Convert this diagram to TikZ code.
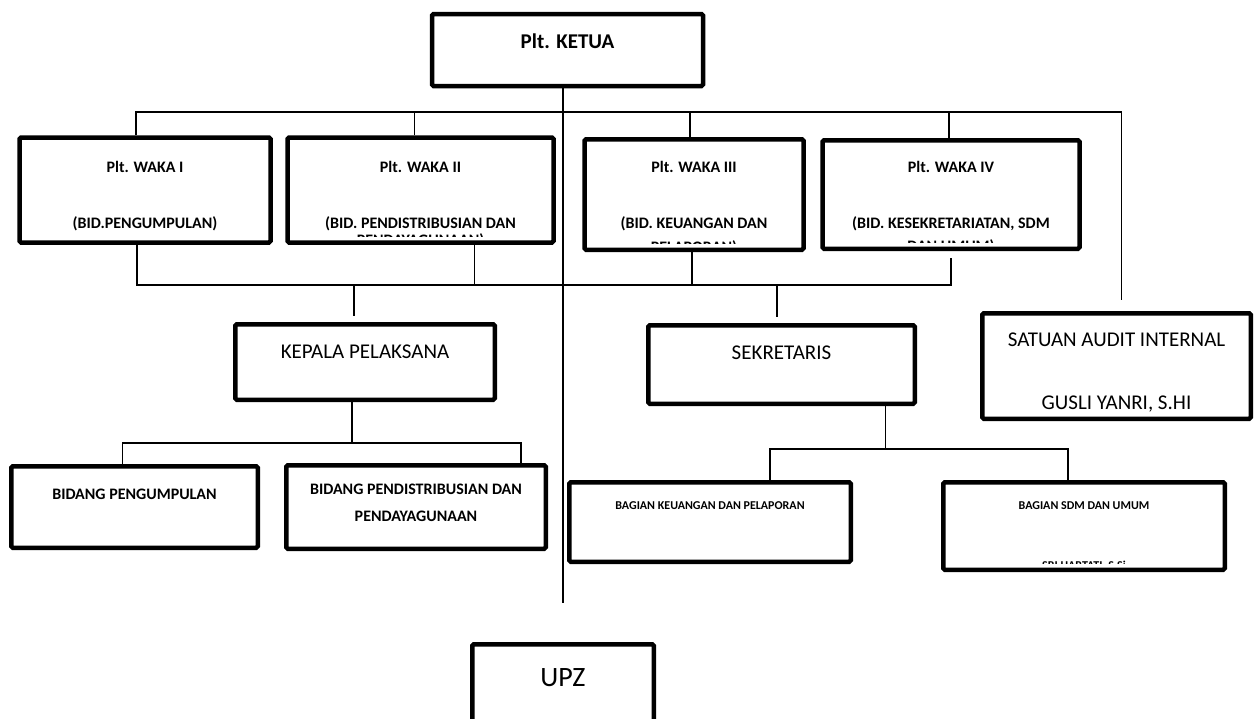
\documentclass[tikz,border=0pt]{standalone}
\usepackage{fontspec}
\setmainfont{Carlito}
\tikzset{
  every picture/.style = {
    x = 1pt,
    y = -1pt,
    line width = 1.6pt
  }
  ,
  unit/.style = {
    rectangle,
    rounded corners = 1.5pt,
    draw,
    line width = 4.5pt,
    inner sep = 0pt
  }
  , % bold texts of the small boxes
  label-unit/.style = {
    font = \fontsize{16}{27}\selectfont\bfseries,
    align = center,
    anchor = north,
    inner sep = 0pt
  }
  , % bold texts of the bagian boxes
  label-small/.style = {
    label-unit,
    font = \fontsize{12}{20}\selectfont\bfseries
  }
  , % bold text of the head
  label-head/.style = {
    font = \fontsize{21}{27}\selectfont\bfseries,
    anchor = north,
    inner sep = 0pt
  }
  , % plain texts
  label-plain/.style = {
    font = \fontsize{21}{30}\selectfont,
    align = center,
    anchor = north,
    inner sep = 0pt
  }
  , % last line, cut off by the box
  cut-line/.style 2 args = {
    path picture = {
      \clip ([yshift=6pt]path picture bounding box.south west)
        rectangle (path picture bounding box.north east);
      \node [#1, draw=none, minimum size=0pt, rounded corners=0pt]
        at ([yshift=11pt]path picture bounding box.south) {#2};
    }
  }
}

\begin{document}
\begin{tikzpicture}
\clip (0,0) rectangle (1259,718);
\fill [white] (0,0) rectangle (1259,718);

\node [unit, minimum width=271, minimum height=72,
  label={[label-head, yshift=-21]north:Plt. KETUA}] (ketua) at (567.5,50) {};

\node [unit, minimum width=251, minimum height=105,
  label={[label-unit, yshift=-25]north:{Plt. WAKA I\\[29pt](BID.PENGUMPULAN)}}] (w1) at (145,190) {};
\node [unit, minimum width=266, minimum height=105, cut-line={label-unit}{PENDAYAGUNAAN)},
  label={[label-unit, yshift=-25]north:{Plt. WAKA II\\[29pt](BID. PENDISTRIBUSIAN DAN}}] (w2) at (420.5,190) {};
\node [unit, minimum width=219, minimum height=110.5, cut-line={label-unit}{PELAPORAN)},
  label={[label-unit, yshift=-23]north:{Plt. WAKA III\\[29pt](BID. KEUANGAN DAN}}] (w3) at (694,194.5) {};
\node [unit, minimum width=257, minimum height=108.5, cut-line={label-unit}{DAN UMUM)},
  label={[label-unit, yshift=-22]north:{Plt. WAKA IV\\[29pt](BID. KESEKRETARIATAN, SDM}}] (w4) at (951,194.5) {};

\node [unit, minimum width=259.5, minimum height=75.5,
  label={[label-plain, yshift=-22.5]north:KEPALA PELAKSANA}] (kep) at (365,362) {};
\node [unit, minimum width=266.5, minimum height=78.5,
  label={[label-plain, yshift=-22.5]north:SEKRETARIS}] (sek) at (781.5,364.5) {};
\node [unit, minimum width=268.5, minimum height=105.5,
  label={[label-plain, yshift=-21.5]north:{SATUAN AUDIT INTERNAL\\[33pt]GUSLI YANRI, S.HI}}] (sat) at (1116.5,366) {};

\node [unit, minimum width=246.5, minimum height=81.5,
  label={[label-unit, yshift=-24]north:BIDANG PENGUMPULAN}] (bid1) at (134.5,507) {};
\node [unit, minimum width=259.5, minimum height=83.5,
  label={[label-unit, yshift=-20]north:{BIDANG PENDISTRIBUSIAN DAN\\PENDAYAGUNAAN}}] (bid2) at (416,507) {};
\node [unit, minimum width=281.5, minimum height=79.5,
  label={[label-small, yshift=-21]north:BAGIAN KEUANGAN DAN PELAPORAN}] (keu) at (710,522) {};
\node [unit, minimum width=281.5, minimum height=87.5, cut-line={label-small}{SRI HARTATI, S.Si},
  label={[label-small, yshift=-21]north:BAGIAN SDM DAN UMUM}] (sdm) at (1084,526) {};

\node [unit, minimum width=181.5, minimum height=150,
  label={[label-plain, font=\fontsize{28}{34}\selectfont, yshift=-26]north:UPZ}] (upz) at (563,719.25) {};

% buses
\coordinate (top bus) at (0,112);
\coordinate (mid bus) at (0,285);
\coordinate (left bus) at (0,443);
\coordinate (right bus) at (0,449);

% head down to UPZ
\draw (upz.north |- ketua.south) -- ([yshift=39]upz.north);

% head to the waka and the audit unit
\draw ([xshift=-9]w1.north) -- ([xshift=-9]w1.north |- top bus)
  -| ([xshift=5, yshift=11]sat.north);
\foreach \n/\dx in {w2/-6, w3/-4, w4/-2}
  \draw ([xshift=\dx]\n.north) -- ([xshift=\dx]\n.north |- top bus);

% waka to kepala and sekretaris
\draw ([xshift=-8]w1.south) -- ([xshift=-8]w1.south |- mid bus)
  -| ([yshift=-7]w4.south);
\foreach \n/\dx in {w2/54, w3/-2}
  \draw ([xshift=\dx]\n.south) -- ([xshift=\dx]\n.south |- mid bus);
\foreach \n/\dx in {kep/-11, sek/-4.5}
  \draw ([xshift=\dx]\n.north |- mid bus) -- ([xshift=\dx, yshift=6]\n.north);

% kepala to the bidang
\draw ([xshift=-13]kep.south) -- ([xshift=-13]kep.south |- left bus);
\draw ([xshift=-12]bid1.north) -- ([xshift=-12]bid1.north |- left bus)
  -| ([xshift=105]bid2.north);

% sekretaris to the bagian
\draw ([xshift=104]sek.south) -- ([xshift=104]sek.south |- right bus);
\draw ([xshift=60]keu.north) -- ([xshift=60]keu.north |- right bus)
  -| ([xshift=-16]sdm.north);
\end{tikzpicture}
\end{document}
